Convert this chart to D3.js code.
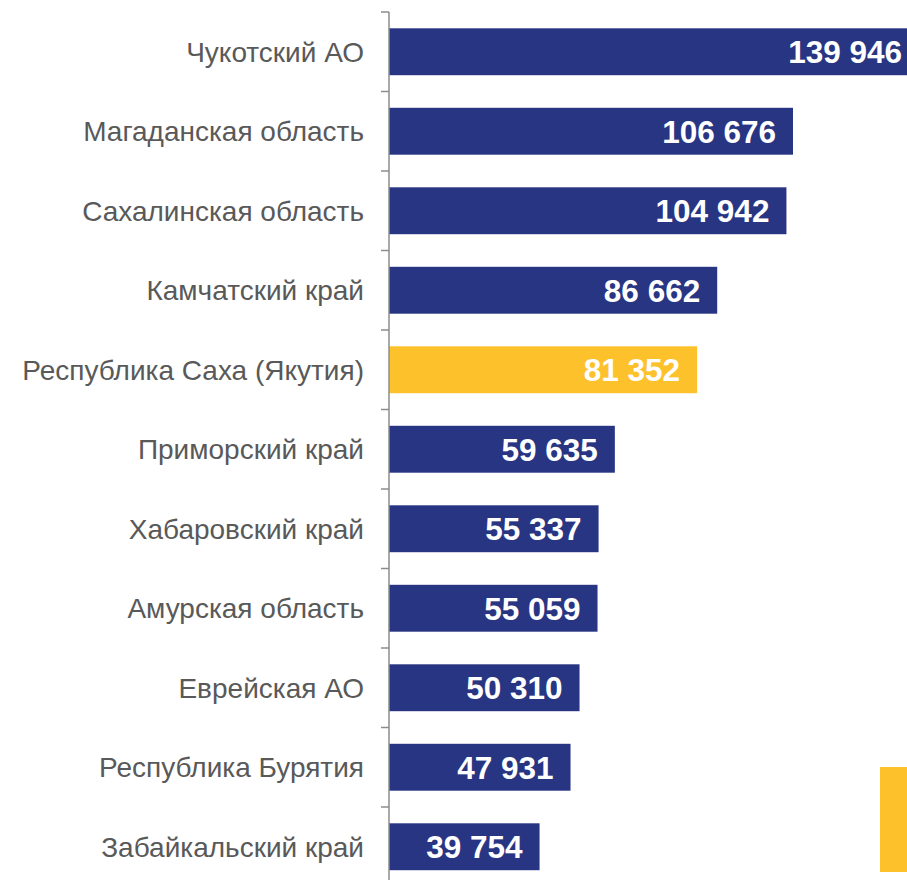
<!DOCTYPE html>
<html>
<head>
<meta charset="utf-8">
<script src="https://cdn.jsdelivr.net/npm/d3@7"></script>
<style>
  html, body { margin: 0; padding: 0; background: #fff; overflow: hidden; }
  svg { display: block; }
</style>
</head>
<body>
<script>
const categories = ["Чукотский АО","Магаданская область","Сахалинская область","Камчатский край","Республика Саха (Якутия)","Приморский край","Хабаровский край","Амурская область","Еврейская АО","Республика Бурятия","Забайкальский край"];
const values = [139946,106676,104942,86662,81352,59635,55337,55059,50310,47931,39754];
const highlighted = ["Республика Саха (Якутия)"];

const W = 907, H = 880;
const navy = "#283583", gold = "#FDC12B";

const svg = d3.select("body").append("svg").attr("width", W).attr("height", H);

const x = d3.scaleLinear().domain([0, 139946]).range([389, 919]);
const y = d3.scaleBand().domain(categories).range([12, 886.5]).paddingInner(0.41).paddingOuter(0.205);
const step = y.step();

// bars
svg.selectAll("rect.bar").data(categories).join("rect")
  .attr("class","bar")
  .attr("x", x(0))
  .attr("y", d => y(d))
  .attr("width", (d,i) => x(values[i]) - x(0))
  .attr("height", y.bandwidth())
  .attr("fill", d => highlighted.includes(d) ? gold : navy);

// value labels
svg.selectAll("text.val").data(categories).join("text")
  .attr("class","val")
  .attr("x", (d,i) => x(values[i]) - 17)
  .attr("y", d => y(d) + y.bandwidth()/2)
  .attr("dy","0.36em")
  .attr("text-anchor","end")
  .attr("fill","#fff")
  .attr("font-family","'Liberation Sans', Arial, sans-serif")
  .attr("font-weight","bold")
  .attr("font-size", 31.5)
  .text((d,i) => d3.format(",")(values[i]).replace(/,/g," "));

// axis
const axisG = svg.append("g").attr("transform", `translate(${x(0)},0)`);
axisG.append("line").attr("x1",0).attr("x2",0).attr("y1",12).attr("y2",H)
  .attr("stroke","#8c8c8c").attr("stroke-width",1.5);
const boundaries = categories.map(c => y(c) - step*0.205);
axisG.selectAll("line.tick").data(boundaries).join("line")
  .attr("class","tick")
  .attr("x1",-8).attr("x2",0)
  .attr("y1", d => d).attr("y2", d => d)
  .attr("stroke","#8c8c8c").attr("stroke-width",1.5);

// category labels
svg.selectAll("text.cat").data(categories).join("text")
  .attr("class","cat")
  .attr("x", 364)
  .attr("y", d => y(d) + y.bandwidth()/2)
  .attr("dy","0.36em")
  .attr("text-anchor","end")
  .attr("fill","#595959")
  .attr("font-family","'Liberation Sans', Arial, sans-serif")
  .attr("font-size", 28)
  .text(d => d);

// decorative yellow block bottom right
svg.append("rect").attr("x",880).attr("y",767).attr("width",27).attr("height",105).attr("fill",gold);
</script>
</body>
</html>
